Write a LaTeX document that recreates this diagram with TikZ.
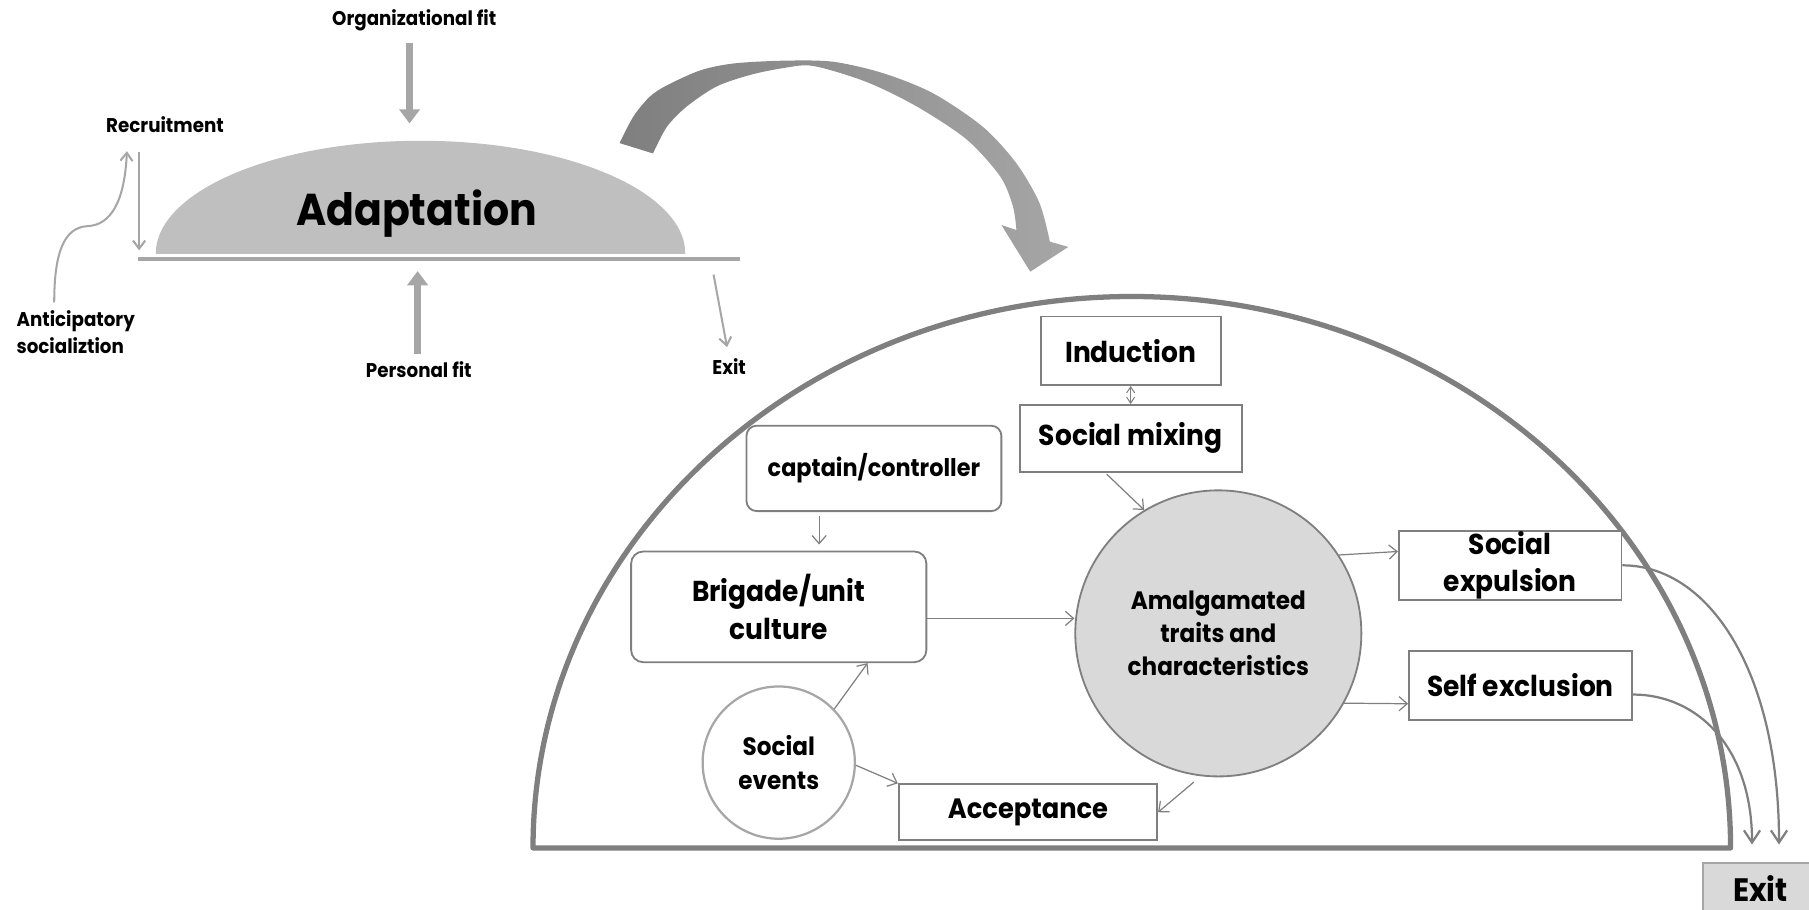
\documentclass[tikz,border=0pt]{standalone}
\usepackage{fontspec}
\setmainfont{Poppins}[FakeStretch=0.92]
\usetikzlibrary{arrows.meta, positioning, shapes.geometric}
\definecolor{domegray}{HTML}{BFBFBF}
\definecolor{lightline}{HTML}{A6A6A6}
\definecolor{darkline}{HTML}{7F7F7F}
\definecolor{cellfill}{HTML}{D9D9D9}

\begin{document}
\begin{tikzpicture}[
  x=0.02cm, y=0.02cm,
  every node/.style={font=\bfseries, inner sep=0pt},
  lbl/.style={font=\fontsize{9.8}{13}\selectfont\bfseries, align=left},
  box/.style={draw=darkline, line width=0.9pt, fill=white, align=center,
              font=\fontsize{14.2}{18}\selectfont\bfseries},
  rbox/.style={box, rounded corners=5pt},
  blob/.style={circle, draw=darkline, line width=0.9pt, align=center},
  arr/.style={-{Straight Barb[length=4pt,width=7pt]}, line width=0.6pt, draw=darkline},
  thinarr/.style={-{Straight Barb[length=4pt,width=6pt]}, line width=1pt, draw=lightline},
  fatarr/.style={-{Triangle[length=7pt,width=10pt]}, line width=3.6pt, draw=lightline},
  exitarr/.style={-{Straight Barb[length=6pt,width=8pt]}, line width=1.1pt, draw=darkline},
  contour/.style={draw=darkline, line width=2.6pt, line join=round}
]
\useasboundingbox (0,0) rectangle (1568,-788);
\clip (0,0) rectangle (1568,-788);

%% adaptation stage
\fill[domegray] (135,-220) arc[start angle=180, end angle=0, x radius=229.5, y radius=98] -- cycle;
\draw[lightline, line width=2pt] (120,-224.5) -- (641,-224.5);
\node (adapt) at (361,-185) {\fontsize{22}{26}\selectfont Adaptation};

\node[lbl] (orgfit)  at (359,-18)  {Organizational fit};
\node[lbl] (recruit) at (143,-108) {Recruitment};
\node[lbl, anchor=west] (antsoc) at (14,-288) {Anticipatory\\socializtion};
\node[lbl] (persfit) at (363,-320) {Personal fit};
\node[lbl] (exitl)   at (632,-318) {Exit};

\coordinate (orgEnd)   at (355,-107);
\coordinate (persEnd)  at (362,-235);
\coordinate (recBot)   at (120.6,-217);
\coordinate (ascStart) at (47,-262);
\coordinate (ascTip)   at (110,-131);
\coordinate (exitTop)  at (618.5,-238);

\draw[fatarr, shorten <=0.2cm] (orgfit.south -| orgEnd) -- (orgEnd);
\draw[fatarr, shorten <=0.12cm] (persfit.north -| persEnd) -- (persEnd);
\draw[thinarr, shorten <=0.32cm] (recruit.south -| recBot) -- (recBot);
\draw[thinarr] (ascStart) .. controls (47,-220) and (55,-197) .. (76,-196)
  .. controls (96,-195) and (108,-175) .. (ascTip);
\draw[thinarr, shorten >=0.2cm] (exitTop) -- (exitl.north);

%% big transfer arrow
\shade[left color=darkline, right color=lightline]
  plot[smooth] coordinates {(537,-124) (549,-101) (563,-84) (578,-74) (607,-61)
                            (636,-55) (679,-52.6) (722,-53.5) (766,-63.6) (809,-81)
                            (852,-110) (881,-141.6) (901,-176) (910,-209.5)}
  -- (926,-214) -- (893,-235.5) -- (868,-195)
  -- plot[smooth] coordinates {(881,-199.4) (878,-179) (867,-153) (838,-121)
                               (795,-92.5) (751,-71) (705,-57.2) (679,-59) (650,-65)
                               (621,-75) (595,-92.5) (578,-110) (566,-133)}
  -- cycle;

%% socialisation dome
\draw[contour] (462,-735) arc[start angle=180, end angle=0, x radius=519, y radius=478] -- cycle;

\node[box, minimum width=3.12cm, minimum height=1.19cm] (induct) at (980,-304) {Induction};
\node[box, minimum width=3.85cm, minimum height=1.16cm] (smix)   at (980,-380) {Social mixing};
\node[rbox, minimum width=4.42cm, minimum height=1.48cm,
      font=\fontsize{12}{13}\selectfont\bfseries] (capt) at (757.5,-406) {captain/controller};
\node[rbox, minimum width=5.12cm, minimum height=1.92cm, rounded corners=6pt,
      font=\fontsize{14.2}{19}\selectfont\bfseries] (brig) at (675,-526) {Brigade/unit\\culture};
\node[blob, fill=cellfill, minimum size=4.96cm,
      font=\fontsize{12.4}{16.2}\selectfont\bfseries] (amalg) at (1056,-549)
      {Amalgamated\\traits and\\characteristics};
\node[box, minimum width=3.86cm, minimum height=1.19cm] (sexp) at (1309,-490) {Social\\expulsion};
\node[box, minimum width=3.87cm, minimum height=1.2cm]  (sexc) at (1318,-594) {Self exclusion};
\node[blob, draw=lightline, line width=1.1pt, fill=white, minimum size=2.64cm,
      font=\fontsize{12.4}{16.4}\selectfont\bfseries] (events) at (675,-661) {Social\\events};
\node[box, minimum width=4.48cm, minimum height=0.97cm,
      font=\fontsize{13.8}{16}\selectfont\bfseries] (accept) at (891,-704) {Acceptance};
\node[box, fill=cellfill, draw=lightline, minimum width=2cm, minimum height=0.88cm,
      font=\fontsize{16}{18}\selectfont\bfseries] (exitb) at (1526,-770) {Exit};

\coordinate (exitA) at (1542,-732);
\coordinate (exitB) at (1518.6,-732);

\draw[{Straight Barb[length=3pt,width=4pt]}-{Straight Barb[length=3pt,width=4pt]},
      line width=0.5pt, darkline] (induct.south) -- (smix.north);
\draw[arr, shorten <=2pt, shorten >=3pt] ([xshift=-0.95cm]capt.south) -- ([xshift=-0.95cm]capt.south |- brig.north);
\draw[arr] ([yshift=-0.2cm]brig.east) -- ([yshift=-0.2cm]brig.east -| amalg.west);
\draw[arr, shorten <=1pt] ([xshift=-0.44cm]smix.south) -- (amalg.121);
\draw[arr] (amalg.33) -- ([yshift=0.24cm]sexp.west);
\draw[arr] (amalg.-29) -- ([yshift=-0.32cm]sexc.west);
\draw[arr] (events.44) -- ([xshift=1.54cm]brig.south);
\draw[arr] (events.-2) -- (accept.north west);
\draw[arr, shorten <=0.16cm] (amalg.263) -- (accept.east);

\draw[exitarr] (sexp.east) .. controls +(75,0) and +(0,150) .. (exitA);
\draw[exitarr] ([yshift=-0.16cm]sexc.east) .. controls +(55,0) and +(0,85) .. (exitB);
\end{tikzpicture}
\end{document}
